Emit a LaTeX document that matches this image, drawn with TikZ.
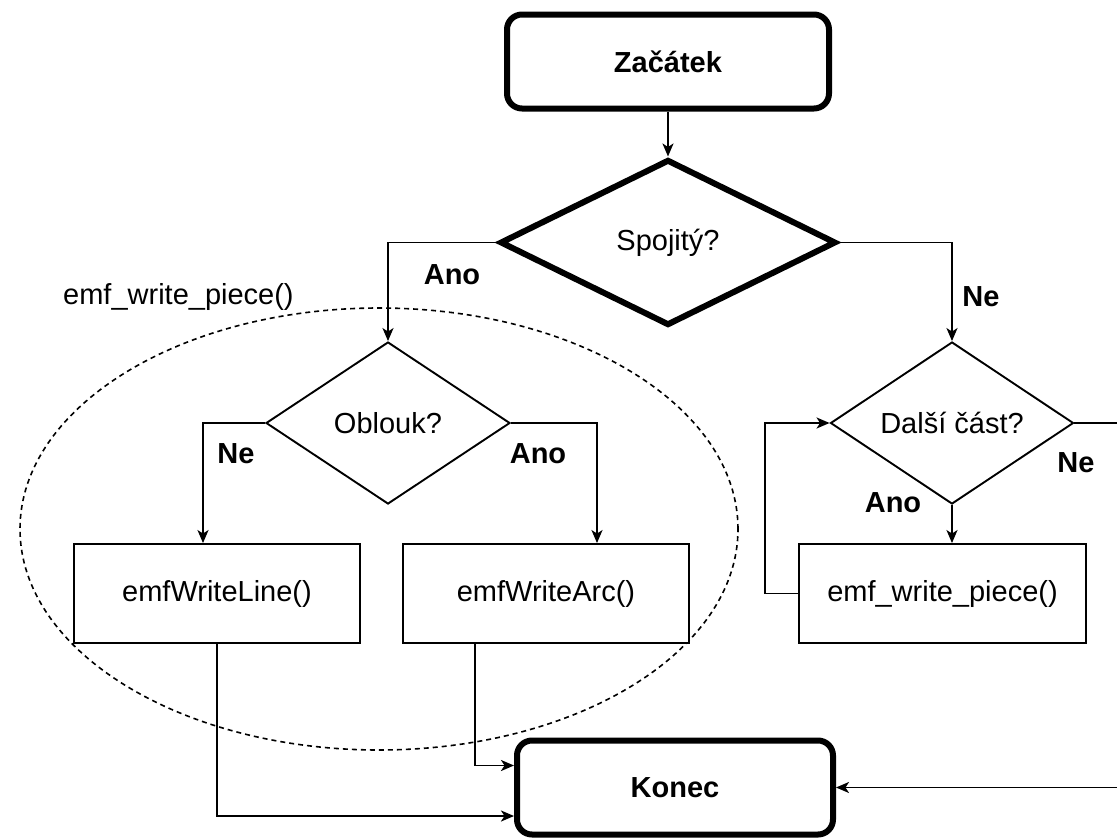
\documentclass[tikz,border=0pt]{standalone}
\usepackage{fontspec}
\setmainfont{Liberation Sans}
\usetikzlibrary{arrows.meta,shapes.geometric,calc}
\tikzset{
  thin line/.style={line width=1.9pt},
  arr/.style={thin line,-{Stealth[length=13pt,width=11pt,inset=3.5pt]}},
  boxnode/.style={draw,thin line,fill=white,rectangle,inner sep=0pt,minimum width=286pt,minimum height=99pt,font=\fontsize{29}{34}\selectfont},
  termnode/.style={draw,line width=6pt,fill=white,rectangle,rounded corners=15pt,inner sep=0pt,minimum width=322pt,minimum height=94pt,font=\fontsize{29}{34}\selectfont\bfseries},
  decnode/.style={draw,thin line,fill=white,diamond,inner sep=0pt,font=\fontsize{29}{34}\selectfont},
  lbl/.style={font=\fontsize{29}{34}\selectfont\bfseries,inner sep=0pt},
  grouplbl/.style={font=\fontsize{29}{34}\selectfont,inner sep=0pt},
  grouping/.style={line width=1.6pt,dash pattern=on 5pt off 4pt}
}
\begin{document}
\begin{tikzpicture}[x=1pt,y=-1pt]
\useasboundingbox (0,0) rectangle (1117,838);
\clip (0,0) rectangle (1117,838);
% dashed grouping ellipse
\draw[grouping] (379,529) ellipse [x radius=359pt, y radius=221pt];
\node[grouplbl,anchor=west] (glabel) at (63,297) {emf\_write\_piece()};
% nodes
\node[termnode] (zac) at (668,61.5) {Začátek};
\node[decnode,line width=6pt,minimum width=336pt,minimum height=166pt,aspect=2.06] (spoj) at (668,242.5) {Spojitý?};
\node[decnode,minimum width=244pt,minimum height=162pt,aspect=1.5] (obl) at (388,423) {Oblouk?};
\node[decnode,minimum width=243pt,minimum height=162pt,aspect=1.5] (dal) at (952,423) {Další část?};
\node[boxnode] (wline) at (217,593.5) {emfWriteLine()};
\node[boxnode] (warc) at (546,593.5) {emfWriteArc()};
\node[boxnode,minimum width=287pt] (piece) at (942.5,593.5) {emf\_write\_piece()};
\node[termnode,minimum width=316pt] (konec) at (675,787.5) {Konec};
% connectors
\draw[arr] (zac.south) -- (spoj.north);
\draw[arr] (spoj.west) -| (obl.north);
\draw[arr] (spoj.east) -| (dal.north);
\draw[arr] (obl.west) -| ($(wline.north)+(-14,0)$);
\draw[arr] (obl.east) -| ($(warc.north)+(51,0)$);
\draw[arr] (dal.south) -- (dal.south |- piece.north);
\draw[arr] (piece.west) -- ++(-33,0) coordinate (loopc) |- (dal.west);
\draw[arr] (dal.east) -- ++(80,0) coordinate (outc) |- (konec.east);
\draw[arr] (wline.south) |- ($(konec.west)+(0,28.5)$);
\draw[arr] ($(warc.south)+(-71,0)$) |- ($(konec.west)+(0,-22)$);
% labels
\node[lbl] (l1) at (452,275) {Ano};
\node[lbl] (l2) at (981,297) {Ne};
\node[lbl] (l3) at (236,454) {Ne};
\node[lbl] (l4) at (538,454) {Ano};
\node[lbl] (l5) at (1076,463) {Ne};
\node[lbl] (l6) at (893,503) {Ano};
\end{tikzpicture}
\end{document}
